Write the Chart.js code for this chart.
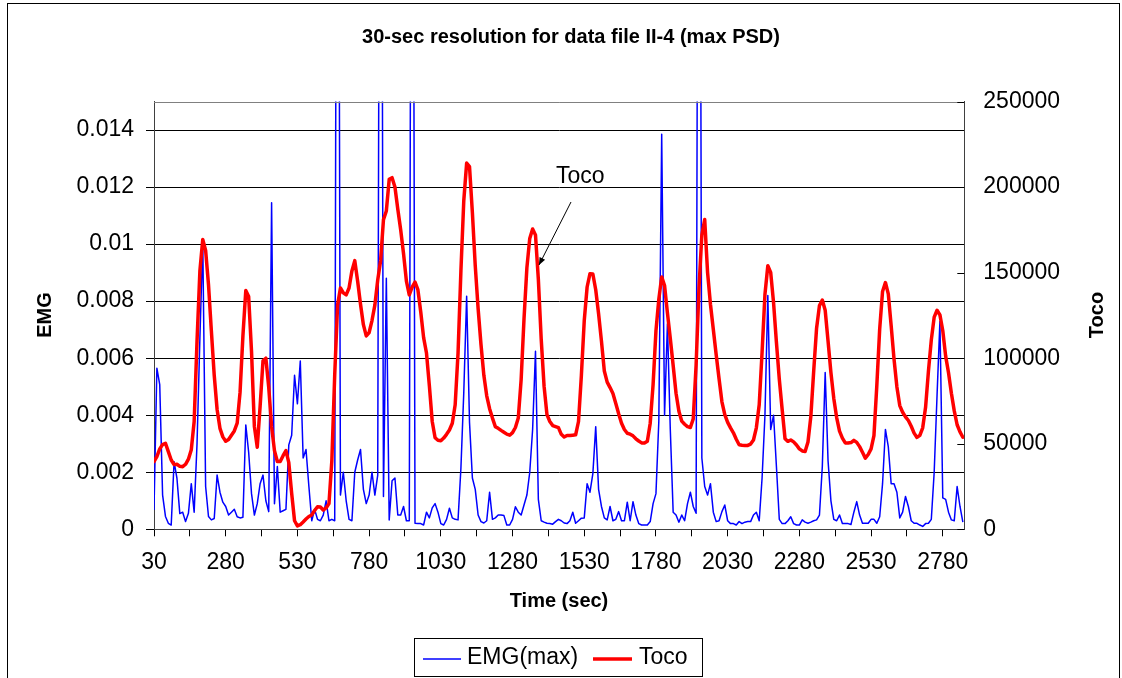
<!DOCTYPE html>
<html>
<head>
<meta charset="utf-8">
<script src="https://cdn.jsdelivr.net/npm/chart.js@4.4.1/dist/chart.umd.min.js"></script>
<style>
  html, body { margin: 0; padding: 0; background: #ffffff; }
  #wrap { width: 1122px; height: 678px; position: relative; background: #ffffff; }
  canvas { display: block; }
</style>
</head>
<body>
<div id="wrap"><canvas id="c" width="1122" height="678"></canvas></div>
<script>
// ---------------- DATA ----------------
const chartTitle = '30-sec resolution for data file II-4 (max PSD)';
const xTitle = 'Time (sec)';
const yLeftTitle = 'EMG';
const yRightTitle = 'Toco';
const seriesNames = ['EMG(max)', 'Toco'];

// sample times: start 30 s, one sample every 10 s
const timeStart = 30;
const timeStep = 10;
const timeEnd = 2855;

const xLabelValues = [30, 280, 530, 780, 1030, 1280, 1530, 1780, 2030, 2280, 2530, 2780];
const xTickLabels  = ['30','280','530','780','1030','1280','1530','1780','2030','2280','2530','2780'];
const xMinorOffset = 125;

const emgTickValues = [0, 0.002, 0.004, 0.006, 0.008, 0.01, 0.012, 0.014];
const emgTickLabels = ['0','0.002','0.004','0.006','0.008','0.01','0.012','0.014'];
const tocoTickValues = [0, 50000, 100000, 150000, 200000, 250000];
const tocoTickLabels = ['0','50000','100000','150000','200000','250000'];

// EMG(max) values (off-scale spikes go above 0.015)
const emgValues = [
 0.00068,0.00565,0.00507,0.0012,0.00045,0.00021,0.00015,0.00237,0.00179,0.00055,
 0.0006,0.00027,0.00056,0.0016,0.0006,0.003,0.0067,0.0101,0.0015,0.00045,
 0.00033,0.00038,0.0019,0.0013,0.00095,0.0008,0.0005,0.0006,0.0007,0.00044,
 0.0004,0.00042,0.00366,0.0027,0.00125,0.0005,0.0009,0.0016,0.0019,0.001,
 0.00062,0.01145,0.0009,0.0022,0.0006,0.00065,0.0007,0.00296,0.0033,0.0054,
 0.0044,0.0059,0.0025,0.0028,0.0015,0.0003,0.0007,0.00035,0.0003,0.0005,
 0.001,0.0003,0.00035,0.0003,0.04,0.0012,0.002,0.001,0.00035,0.0003,
 0.002,0.00243,0.0028,0.0014,0.0009,0.0012,0.002,0.0012,0.0019,0.04,
 0.00115,0.0088,0.00033,0.0017,0.0018,0.0005,0.0005,0.0008,0.0003,0.0003,
 0.04,0.00021,0.0002,0.0002,0.00015,0.0006,0.0004,0.00075,0.0009,0.0006,
 0.0002,0.00015,0.00035,0.00074,0.0004,0.00035,0.00033,0.00214,0.0048,0.00817,
 0.00375,0.0018,0.0014,0.0005,0.00027,0.00022,0.0003,0.0013,0.00035,0.0004,
 0.0005,0.0005,0.00048,0.00015,0.00015,0.00035,0.00079,0.0006,0.0005,0.00085,
 0.0012,0.002,0.0035,0.00624,0.00105,0.0003,0.00025,0.00021,0.0002,0.00018,
 0.00027,0.00035,0.0003,0.00022,0.0002,0.0003,0.0006,0.00021,0.0003,0.00039,
 0.0004,0.0016,0.0013,0.00195,0.0036,0.0014,0.0008,0.0004,0.00033,0.0008,
 0.0003,0.00035,0.00062,0.0003,0.0003,0.00095,0.0003,0.00097,0.0005,0.0002,
 0.00015,0.00015,0.00015,0.00027,0.0009,0.00125,0.0038,0.01385,0.004,0.0072,
 0.0035,0.0006,0.0005,0.00025,0.0005,0.0003,0.0009,0.0013,0.0008,0.00056,
 0.04,0.0025,0.0015,0.0012,0.0016,0.0006,0.00027,0.0003,0.00062,0.00085,
 0.0003,0.0002,0.0002,0.00015,0.00027,0.0002,0.00025,0.00027,0.00027,0.0005,
 0.0006,0.0003,0.0018,0.004,0.0082,0.0035,0.004,0.0022,0.00035,0.0002,
 0.0002,0.0003,0.00044,0.0002,0.00015,0.00015,0.00033,0.00025,0.00021,0.00025,
 0.0003,0.00033,0.0005,0.0022,0.0055,0.0024,0.001,0.00035,0.0003,0.0005,
 0.0002,0.0002,0.0002,0.00017,0.0006,0.00097,0.0005,0.00021,0.00021,0.00021,
 0.00035,0.00035,0.00021,0.00044,0.0016,0.0035,0.0029,0.0016,0.0016,0.0013,
 0.0004,0.0006,0.00115,0.0008,0.0003,0.00021,0.00021,0.00015,0.0001,0.0002,
 0.00021,0.00035,0.002,0.0047,0.00729,0.0011,0.00105,0.0006,0.00033,0.0003,
 0.0015,0.0008,0.00025
];

// Toco values
const tocoValues = [
 39600,42500,47000,49500,50300,45400,40500,37800,38000,36800,
 36600,38000,41000,46500,63000,110000,151000,169400,163000,143000,
 116000,90000,70000,59000,54000,51500,52500,55000,57500,62000,
 80000,113000,139500,136000,104000,60000,48000,72000,98500,100000,
 83000,60000,46000,39600,39600,43000,46000,39000,21000,5000,
 2000,2700,4300,6000,7500,8400,11000,13200,13000,11300,
 12500,15000,40000,90000,131000,141000,138200,137000,141000,151000,
 157000,145000,131500,119600,113000,115000,122000,131000,145700,157000,
 181000,186000,204500,205500,200000,187000,175000,161000,145000,137000,
 141500,144500,140000,127000,112000,103000,84000,63000,53500,52000,
 51700,53300,55500,58000,62000,72800,103000,151000,192000,214000,
 212000,185000,154000,129000,108000,90000,78000,70500,65000,60000,
 59000,57800,56700,55600,55000,56500,59500,65000,87500,123000,
 152800,170000,175500,172000,146000,111000,83500,67000,63000,60600,
 60000,59400,55500,53900,54800,54800,55000,55200,63000,90000,
 122000,141600,149400,149200,140000,126000,110000,92500,86000,82800,
 79300,73500,67500,62000,58300,56100,55600,54600,52900,51600,
 50500,50400,51400,62000,84500,116000,134500,147500,142500,126500,
 111500,95700,79500,69000,63200,61400,60000,59500,64500,96000,
 141000,172000,181000,150000,131500,116800,102000,88000,74500,67000,
 62500,59300,56400,52600,49400,49100,49000,49000,49800,52200,
 59300,72800,103500,137300,154000,150100,132500,109300,87800,70000,
 52900,51400,52200,51100,49300,47000,45800,45500,51000,66000,
 92600,117500,130700,134000,128000,110000,91600,76500,65300,57400,
 53300,50500,50400,50700,52000,50800,48300,45000,41600,43700,
 47000,54800,84000,117000,139000,144200,137600,119000,99500,83200,
 72300,68400,65700,63600,60200,56200,53700,54900,59300,71300,
 92400,110700,124000,128000,125300,116000,101200,91500,79500,69200,
 61100,56900,53800
];

// ---------------- STYLE ----------------
const FONT = '"Liberation Sans", Arial, sans-serif';
const tickFontSize = 23;

const emgPoints = emgValues.map((v, i) => ({ x: timeStart + i * timeStep, y: v }));
const tocoPoints = tocoValues.map((v, i) => ({ x: timeStart + i * timeStep, y: v }));

const xTickMarks = [];
xLabelValues.forEach(v => {
  xTickMarks.push(v);
  if (v + xMinorOffset <= timeEnd) xTickMarks.push(v + xMinorOffset);
});

const decor = {
  id: 'decor',
  afterDraw(chart) {
    const c = chart.ctx;
    const a = chart.chartArea;
    c.save();
    // outer chart border
    c.strokeStyle = '#000';
    c.lineWidth = 1;
    c.strokeRect(7.5, 3.5, 1112, 720);
    // plot area top border
    c.strokeStyle = '#808080';
    c.beginPath();
    c.moveTo(a.left, Math.round(a.top) + 0.5);
    c.lineTo(a.right, Math.round(a.top) + 0.5);
    c.stroke();
    // right axis inward ticks
    const y1 = chart.scales.y1;
    c.strokeStyle = '#000';
    tocoTickValues.forEach(v => {
      const py = Math.round(y1.getPixelForValue(v)) + 0.5;
      c.beginPath();
      c.moveTo(a.right - 7, py);
      c.lineTo(a.right, py);
      c.stroke();
    });
    // title
    c.fillStyle = '#000';
    c.textAlign = 'center';
    c.textBaseline = 'middle';
    c.font = 'bold 20px ' + FONT;
    c.fillText(chartTitle, 571, 37);
    // axis titles
    c.font = 'bold 20px ' + FONT;
    c.fillText(xTitle, 559, 601);
    c.save();
    c.translate(45, 315);
    c.rotate(-Math.PI / 2);
    c.fillText(yLeftTitle, 0, 0);
    c.restore();
    c.save();
    c.translate(1097, 315);
    c.rotate(-Math.PI / 2);
    c.fillText(yRightTitle, 0, 0);
    c.restore();
    // annotation
    c.font = tickFontSize + 'px ' + FONT;
    c.textAlign = 'left';
    c.fillText('Toco', 556, 177);
    const x0 = 571, y0 = 202, x1 = 539, y1p = 265;
    c.strokeStyle = '#000';
    c.lineWidth = 1;
    c.beginPath();
    c.moveTo(x0, y0);
    c.lineTo(x1, y1p);
    c.stroke();
    const ang = Math.atan2(y1p - y0, x1 - x0);
    const L = 8, W = 0.4;
    c.fillStyle = '#000';
    c.beginPath();
    c.moveTo(x1, y1p);
    c.lineTo(x1 - L * Math.cos(ang - W), y1p - L * Math.sin(ang - W));
    c.lineTo(x1 - L * Math.cos(ang + W), y1p - L * Math.sin(ang + W));
    c.closePath();
    c.fill();
    // legend
    c.strokeStyle = '#000';
    c.lineWidth = 1;
    c.strokeRect(414.5, 638.5, 288, 38);
    c.lineCap = 'butt';
    c.strokeStyle = '#0000FF';
    c.lineWidth = 1.5;
    c.beginPath(); c.moveTo(423, 659); c.lineTo(461, 659); c.stroke();
    c.strokeStyle = '#FF0000';
    c.lineWidth = 3.5;
    c.beginPath(); c.moveTo(593, 659); c.lineTo(632, 659); c.stroke();
    c.fillStyle = '#000';
    c.font = tickFontSize + 'px ' + FONT;
    c.textAlign = 'left';
    c.textBaseline = 'middle';
    c.fillText(seriesNames[0], 467, 658);
    c.fillText(seriesNames[1], 639, 658);
    c.restore();
  }
};

new Chart(document.getElementById('c'), {
  type: 'line',
  data: {
    datasets: [
      { label: seriesNames[0], data: emgPoints, yAxisID: 'y', borderColor: '#0000FF',
        backgroundColor: '#0000FF', borderWidth: 1.5, pointRadius: 0, tension: 0, order: 1,
        borderJoinStyle: 'round' },
      { label: seriesNames[1], data: tocoPoints, yAxisID: 'y1', borderColor: '#FF0000',
        backgroundColor: '#FF0000', borderWidth: 3.5, pointRadius: 0, tension: 0, order: 0,
        borderJoinStyle: 'round', borderCapStyle: 'round' }
    ]
  },
  options: {
    responsive: false,
    animation: false,
    devicePixelRatio: 1,
    layout: { padding: { top: 101.5, left: 0, right: 0, bottom: 0 } },
    plugins: { legend: { display: false }, title: { display: false }, tooltip: { enabled: false } },
    scales: {
      x: {
        type: 'linear', min: timeStart, max: timeEnd,
        afterBuildTicks: s => { s.ticks = xTickMarks.map(v => ({ value: v })); },
        afterFit: s => { s.height = 678 - 529.3; },
        ticks: {
          autoSkip: false, maxRotation: 0, minRotation: 0, padding: 13,
          color: '#000', font: { family: FONT, size: tickFontSize },
          callback: (v) => { const i = xLabelValues.indexOf(v); return i >= 0 ? xTickLabels[i] : ''; }
        },
        grid: { drawOnChartArea: false, drawTicks: true, tickLength: 7, color: '#000' },
        border: { display: true, color: '#404040' }
      },
      y: {
        type: 'linear', position: 'left', min: 0, max: 0.015,
        afterBuildTicks: s => { s.ticks = emgTickValues.map(v => ({ value: v })); },
        afterFit: s => { s.width = 154; },
        ticks: {
          padding: 12, color: '#000', font: { family: FONT, size: tickFontSize },
          callback: (v) => { const i = emgTickValues.indexOf(v); return i >= 0 ? emgTickLabels[i] : ''; }
        },
        grid: { drawOnChartArea: true, drawTicks: true, tickLength: 8, color: '#000' },
        border: { display: true, color: '#404040' }
      },
      y1: {
        type: 'linear', position: 'right', min: 0, max: 250000,
        afterBuildTicks: s => { s.ticks = tocoTickValues.map(v => ({ value: v })); },
        afterFit: s => { s.width = 1122 - 964.3; },
        ticks: {
          padding: 19, color: '#000', font: { family: FONT, size: tickFontSize },
          callback: (v) => { const i = tocoTickValues.indexOf(v); return i >= 0 ? tocoTickLabels[i] : ''; }
        },
        grid: { drawOnChartArea: false, drawTicks: false, color: '#000' },
        border: { display: true, color: '#404040' }
      }
    }
  },
  plugins: [decor]
});
</script>
</body>
</html>
